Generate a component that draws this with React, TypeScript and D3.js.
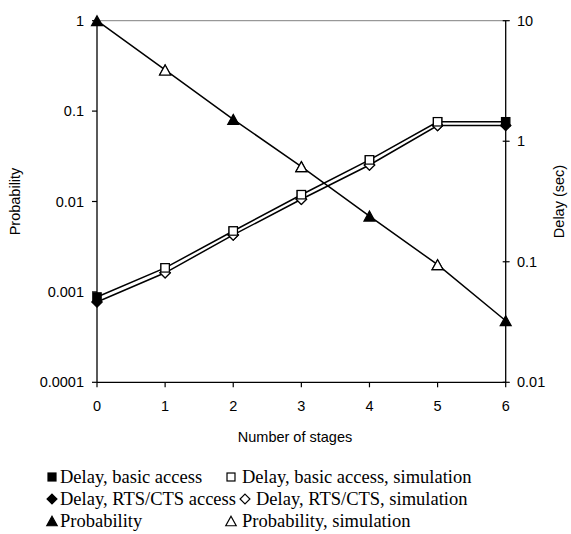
import React from "react";
import * as d3 from "d3";

const stages = [0, 1, 2, 3, 4, 5, 6];
const probability = [1, 0.285, 0.081, 0.0243, 0.0069, 0.002, 0.00048];
const probStagesSim = [1, 3, 5];
const probabilitySim = [0.285, 0.0243, 0.002];
const delayBasic = [0.051, 0.089, 0.18, 0.36, 0.7, 1.45, 1.45];
const delayRts = [0.0464, 0.081, 0.167, 0.33, 0.635, 1.35, 1.35];
const delayStagesSim = [1, 2, 3, 4, 5];
const delayBasicSim = [0.089, 0.18, 0.36, 0.7, 1.45];
const delayRtsSim = [0.081, 0.167, 0.33, 0.635, 1.35];
const leftTicks = [0.0001, 0.001, 0.01, 0.1, 1];
const leftTickLabels = ["0.0001", "0.001", "0.01", "0.1", "1"];
const rightTicks = [0.01, 0.1, 1, 10];
const rightTickLabels = ["0.01", "0.1", "1", "10"];
const legendItems = [
  { label: "Delay, basic access", shape: "square", filled: true },
  { label: "Delay, basic access, simulation", shape: "square", filled: false },
  { label: "Delay, RTS/CTS access", shape: "diamond", filled: true },
  { label: "Delay, RTS/CTS, simulation", shape: "diamond", filled: false },
  { label: "Probability", shape: "triangle", filled: true },
  { label: "Probability, simulation", shape: "triangle", filled: false },
];

const W = 571, H = 534;
const L = 97, R = 505.7, T = 20.7, B = 382.3;
const sans = "'Liberation Sans', Arial, sans-serif";
const serif = "'Liberation Serif', 'Times New Roman', serif";

function Marker({ shape, x, y, filled, s = 1 }: any) {
  const fill = filled ? "#000" : "#fff";
  const sw = 1.2;
  if (shape === "square") {
    const h = 4.2 * s;
    return <rect x={x - h} y={y - h} width={2 * h} height={2 * h} fill={fill} stroke="#000" strokeWidth={sw} />;
  }
  if (shape === "diamond") {
    const h = 5.2 * s;
    return <path d={`M${x},${y - h}L${x + h},${y}L${x},${y + h}L${x - h},${y}Z`} fill={fill} stroke="#000" strokeWidth={sw} />;
  }
  const hw = 5.5 * s, hh = 5 * s;
  return <path d={`M${x},${y - hh}L${x + hw},${y + hh}L${x - hw},${y + hh}Z`} fill={fill} stroke="#000" strokeWidth={sw} />;
}

export default function App() {
  const x = d3.scaleLinear().domain([0, 6]).range([L, R]);
  const yL = d3.scaleLog().domain([1e-4, 1]).range([B, T]);
  const yR = d3.scaleLog().domain([0.01, 10]).range([B, T]);
  const lineL = d3.line<number>().x((_, i) => x(stages[i])).y((d) => yL(d));
  const lineR = d3.line<number>().x((_, i) => x(stages[i])).y((d) => yR(d));

  const legendRowY = [477, 499, 521];
  const symX = [[52, 231], [52, 245], [52, 231]];
  const textX = [[60, 242], [60, 256], [60, 242]];

  return (
    <svg width={W} height={H} style={{ position: "absolute", left: 0, top: 0, background: "#fff" }}>
      <rect width={W} height={H} fill="#fff" />
      <line x1={L} x2={R} y1={T} y2={T} stroke="#808080" strokeWidth={1} />
      <line x1={L} x2={L} y1={T} y2={B} stroke="#000" strokeWidth={1.3} />
      {leftTicks.map((t, i) => (
        <g key={"lt" + i}>
          <line x1={L - 5} x2={L} y1={yL(t)} y2={yL(t)} stroke="#000" strokeWidth={1.2} />
          <text x={84} y={yL(t)} dy="0.35em" textAnchor="end" fontFamily={sans} fontSize={14.5}>{leftTickLabels[i]}</text>
        </g>
      ))}
      <line x1={R} x2={R} y1={T} y2={B} stroke="#000" strokeWidth={1.3} />
      {rightTicks.map((t, i) => (
        <g key={"rt" + i}>
          <line x1={R - 3} x2={R + 4} y1={yR(t)} y2={yR(t)} stroke="#000" strokeWidth={1.2} />
          <text x={517} y={yR(t)} dy="0.35em" textAnchor="start" fontFamily={sans} fontSize={14.5}>{rightTickLabels[i]}</text>
        </g>
      ))}
      <line x1={L} x2={R} y1={B} y2={B} stroke="#000" strokeWidth={1.3} />
      {stages.map((s) => (
        <g key={"bt" + s}>
          <line x1={x(s)} x2={x(s)} y1={B} y2={B + 5} stroke="#000" strokeWidth={1.2} />
          <text x={x(s)} y={406} dy="0.35em" textAnchor="middle" fontFamily={sans} fontSize={14.5}>{s}</text>
        </g>
      ))}
      <text x={295} y={437} dy="0.35em" textAnchor="middle" fontFamily={sans} fontSize={14.5}>Number of stages</text>
      <text transform={`translate(15,${(T + B) / 2}) rotate(-90)`} dy="0.35em" textAnchor="middle" fontFamily={sans} fontSize={14.5}>Probability</text>
      <text transform={`translate(559,${(T + B) / 2}) rotate(-90)`} dy="0.35em" textAnchor="middle" fontFamily={sans} fontSize={14.5}>Delay (sec)</text>

      <path d={lineL(probability) || ""} fill="none" stroke="#000" strokeWidth={1.5} />
      <path d={lineR(delayBasic) || ""} fill="none" stroke="#000" strokeWidth={1.5} />
      <path d={lineR(delayRts) || ""} fill="none" stroke="#000" strokeWidth={1.5} />

      {probability.map((v, i) => <Marker key={"p" + i} shape="triangle" filled x={x(stages[i])} y={yL(v)} />)}
      {delayRts.map((v, i) => <Marker key={"r" + i} shape="diamond" filled x={x(stages[i])} y={yR(v)} />)}
      {delayBasic.map((v, i) => <Marker key={"b" + i} shape="square" filled x={x(stages[i])} y={yR(v)} />)}
      {delayRtsSim.map((v, i) => <Marker key={"rs" + i} shape="diamond" filled={false} x={x(delayStagesSim[i])} y={yR(v)} />)}
      {delayBasicSim.map((v, i) => <Marker key={"bs" + i} shape="square" filled={false} x={x(delayStagesSim[i])} y={yR(v)} />)}
      {probabilitySim.map((v, i) => <Marker key={"ps" + i} shape="triangle" filled={false} x={x(probStagesSim[i])} y={yL(v)} />)}

      {legendItems.map((it, i) => {
        const row = Math.floor(i / 2), col = i % 2;
        const yy = legendRowY[row];
        return (
          <g key={"lg" + i}>
            <Marker shape={it.shape} filled={it.filled} x={symX[row][col]} y={yy} s={0.95} />
            <text x={textX[row][col]} y={yy} dy="0.32em" fontFamily={serif} fontSize={18.5}>{it.label}</text>
          </g>
        );
      })}
    </svg>
  );
}
